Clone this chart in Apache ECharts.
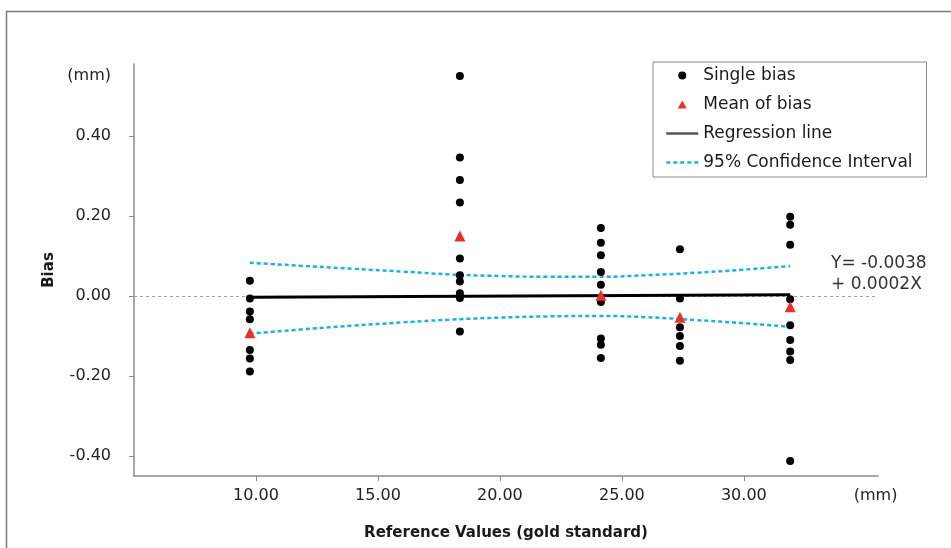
<!DOCTYPE html>
<html>
<head>
<meta charset="utf-8">
<script src="https://cdn.jsdelivr.net/npm/echarts@6/dist/echarts.min.js"></script>
<style>
html,body{margin:0;padding:0;background:#fff;}
#chart{width:951px;height:548px;}
</style>
</head>
<body>
<div id="chart"></div>
<script>
// ---- data ----
const xTickValues = [10, 15, 20, 25, 30];
const yTickValues = [-0.4, -0.2, 0, 0.2, 0.4];
const clusterX = [9.75, 18.36, 24.14, 27.38, 31.9];
const singleBias1 = [0.038, -0.006, -0.039, -0.058, -0.135, -0.156, -0.189];
const singleBias2 = [0.55, 0.346, 0.29, 0.234, 0.094, 0.052, 0.036, 0.007, -0.005, -0.089];
const singleBias3 = [0.17, 0.133, 0.102, 0.06, 0.028, -0.015, -0.106, -0.122, -0.155];
const singleBias4 = [0.117, -0.006, -0.078, -0.1, -0.125, -0.162];
const singleBias5 = [0.198, 0.178, 0.128, -0.008, -0.073, -0.11, -0.139, -0.16, -0.4125];
const meanBias = [-0.092, 0.15, 0.002, -0.053, -0.027];
const regressionX = [9.75, 31.9];
const regressionY = [-0.003, 0.003];
const ciX = [9.75, 12, 14, 16, 18, 20, 22, 24, 26, 28, 30, 31.9];
const ciUpper = [0.083, 0.075, 0.068, 0.061, 0.054, 0.050, 0.048, 0.048, 0.052, 0.058, 0.066, 0.075];
const ciLower = [-0.094, -0.083, -0.074, -0.066, -0.059, -0.054, -0.051, -0.050, -0.053, -0.060, -0.068, -0.077];
const equationLines = ['Y= -0.0038', '+ 0.0002X'];

// ---- build series data ----
const singleGroups = [singleBias1, singleBias2, singleBias3, singleBias4, singleBias5];
const singleData = [];
singleGroups.forEach((g, i) => g.forEach(v => singleData.push([clusterX[i], v])));
const meanData = meanBias.map((v, i) => [clusterX[i], v]);
const regData = regressionX.map((x, i) => [x, regressionY[i]]);
const upData = ciX.map((x, i) => [x, ciUpper[i]]);
const loData = ciX.map((x, i) => [x, ciLower[i]]);

const FONT = 'DejaVu Sans';
const chart = echarts.init(document.getElementById('chart'), null, {renderer: 'canvas'});

const ciStyle = {color: '#1cb0ea', width: 2.5, type: [4, 3]};
const TRI = 'path://M5,0 L10,9 L0,9 Z';

chart.setOption({
  backgroundColor: '#fff',
  animation: false,
  textStyle: {fontFamily: FONT},
  grid: {left: 134, right: 73, top: 64, bottom: 72, containLabel: false},
  legend: {
    orient: 'vertical',
    left: 653, top: 62,
    padding: [5, 14, 6, 12],
    itemGap: 12,
    itemWidth: 32, itemHeight: 8,
    borderColor: '#8a8a8a', borderWidth: 1,
    backgroundColor: '#fff',
    textStyle: {fontFamily: FONT, fontSize: 17, color: '#1a1a1a'},
    data: [
      {name: 'Single bias', icon: 'circle', itemStyle: {color: '#000', opacity: 1}},
      {name: 'Mean of bias', icon: TRI, itemStyle: {color: '#e8302a', opacity: 1}},
      {name: 'Regression line', itemStyle: {opacity: 0}, lineStyle: {color: '#555', width: 2.5}},
      {name: '95% Confidence Interval', itemStyle: {opacity: 0}, lineStyle: {color: '#1cb0ea', width: 2.5, type: [4, 3]}}
    ]
  },
  xAxis: {
    type: 'value', min: 5, max: 35.5,
    name: 'Reference Values (gold standard)',
    nameLocation: 'middle', nameGap: 50,
    nameTextStyle: {fontFamily: FONT, fontSize: 15, fontWeight: 'bold', color: '#1a1a1a'},
    axisLine: {show: true, onZero: false, lineStyle: {color: '#8c8c8c', width: 1.5}},
    axisTick: {show: true, length: 5, customValues: xTickValues, lineStyle: {color: '#8c8c8c'}},
    axisLabel: {
      customValues: xTickValues.concat([35.4]),
      margin: 12, fontFamily: FONT, fontSize: 16, color: '#222',
      formatter: v => (v > 35 ? '(mm)' : v.toFixed(2))
    },
    splitLine: {show: false}
  },
  yAxis: {
    type: 'value', min: -0.45, max: 0.58,
    name: 'Bias',
    nameLocation: 'middle', nameGap: 74,
    nameTextStyle: {fontFamily: FONT, fontSize: 15, fontWeight: 'bold', color: '#1a1a1a'},
    axisLine: {show: true, onZero: false, lineStyle: {color: '#8c8c8c', width: 1.5}},
    axisTick: {show: true, length: 5, customValues: yTickValues, lineStyle: {color: '#8c8c8c'}},
    axisLabel: {
      customValues: yTickValues.concat([0.55]),
      margin: 23, fontFamily: FONT, fontSize: 16, color: '#222',
      formatter: v => (v > 0.5 ? '(mm)' : v.toFixed(2))
    },
    splitLine: {show: false}
  },
  series: [
    {
      name: '95% Confidence Interval', type: 'line', data: upData, smooth: true,
      symbol: 'none', lineStyle: ciStyle, itemStyle: {color: '#1cb0ea'}, z: 2
    },
    {
      name: '95% Confidence Interval', type: 'line', data: loData, smooth: true,
      symbol: 'none', lineStyle: ciStyle, itemStyle: {color: '#1cb0ea'}, z: 2
    },
    {
      name: 'Regression line', type: 'line', data: regData, symbol: 'none',
      lineStyle: {color: '#000', width: 3}, itemStyle: {color: '#555'}, z: 3,
      markLine: {
        silent: true, symbol: 'none', label: {show: false},
        lineStyle: {color: '#a0a0a0', type: [3, 3], width: 1},
        data: [{yAxis: 0}], z: 1
      }
    },
    {
      name: 'Single bias', type: 'scatter', data: singleData, symbol: 'circle',
      symbolSize: 8, itemStyle: {color: '#000', opacity: 1}, z: 4
    },
    {
      name: 'Mean of bias', type: 'scatter', data: meanData, symbol: 'triangle',
      symbolSize: 11, itemStyle: {color: '#e8302a', opacity: 1}, z: 5
    }
  ],
  graphic: [
    {type: 'rect', left: 4, top: 9, shape: {width: 960, height: 560},
     style: {fill: 'none', stroke: '#7a7a7a', lineWidth: 1.5}, z: -1, silent: true},
    {type: 'text', left: 831, top: 253,
     style: {text: equationLines.join('\n'), font: '17px "DejaVu Sans"', fill: '#333', lineHeight: 21}}
  ]
});
</script>
</body>
</html>
